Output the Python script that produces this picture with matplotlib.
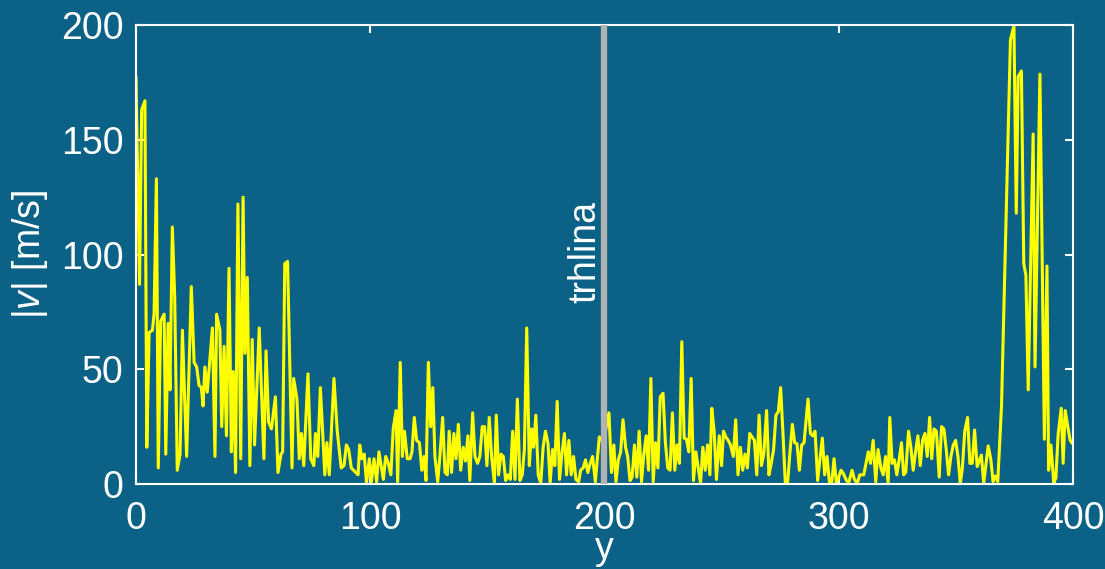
import matplotlib
matplotlib.use("Agg")
import matplotlib.pyplot as plt

plt.rcParams['font.family'] = ['Liberation Sans', 'DejaVu Sans']
plt.rcParams['mathtext.fontset'] = 'custom'
plt.rcParams['mathtext.rm'] = 'Liberation Sans'
plt.rcParams['mathtext.it'] = 'Liberation Sans:italic'

# ------------data------------------------------------------

y_0_50 = [0, 1.5, 2.4, 3.8, 4.6, 5.6, 7.0, 7.7, 8.7, 9.5, 10.5, 12.0, 12.7, 13.7, 14.5,
          15.5, 16.5, 17.6, 18.8, 19.8, 21.6, 23.6, 24.8, 25.9, 26.9, 27.9, 28.6, 29.4,
          30.4, 32.6, 33.7, 34.4, 35.8, 36.6, 37.6, 38.6, 39.7, 40.7, 41.5, 42.5, 43.5,
          44.7, 45.7, 46.5, 47.5, 48.6, 49.6]
v_0_50 = [177, 87, 163, 167, 16, 66, 67, 74, 133, 7, 71, 74, 13, 70, 41,
          112, 82, 6, 13, 67, 12, 86, 53, 51, 43, 42, 34, 51,
          40, 68, 12, 74, 67, 25, 60, 21, 94, 14, 49, 5, 122,
          11, 125, 57, 90, 8, 63]

y_50_100 = [50.6, 52.6, 54.6, 55.5, 56.6, 57.8, 59.5, 60.6, 61.9, 62.6, 63.5, 64.7, 66.6,
            67.3, 68.7, 69.7, 70.6, 71.6, 73.4, 74.6, 75.9, 76.6, 77.6, 78.7, 80.6, 81.5,
            82.5, 84.5, 85.9, 87.6, 88.8, 89.8, 90.8, 91.9, 94.8, 95.5, 96.4, 97.4, 98.4,
            99.6, 100.5]
v_50_100 = [17, 68, 11, 58, 27, 24, 38, 5, 13, 14, 96, 97, 7,
            46, 37, 11, 22, 8, 48, 11, 8, 22, 12, 42, 4, 18,
            4, 46, 23, 7, 8, 17, 15, 7, 4, 17, 11, 13, 0.5,
            11, 1]

y_100_200 = [101.6, 102.7, 103.7, 105.6, 106.6, 107.7, 108.8, 109.8, 111.0, 111.7, 112.8,
             113.7, 114.6, 115.8, 117.0, 117.8, 118.8, 119.8, 121.0, 122.0, 123.0, 123.8,
             124.8, 125.8, 126.7, 127.6, 128.8, 129.8, 130.9, 131.9, 132.9, 133.7, 134.7,
             135.7, 136.6, 137.6, 138.6, 139.7, 140.7, 141.7, 142.5, 143.7, 144.7, 145.8,
             146.8, 147.8, 148.8, 149.8, 150.8, 151.8, 153.0, 153.8, 154.8, 155.8, 156.8,
             157.8, 158.8, 159.8, 160.8, 161.8, 162.8, 163.9, 164.9, 165.8, 166.8, 167.9,
             168.9, 169.7, 170.7, 171.7, 172.8, 173.8, 174.8, 175.9, 176.8, 177.8, 178.8,
             179.8, 180.8, 181.8, 182.9, 183.8, 184.8, 185.8, 186.8, 187.8, 189.0, 189.8,
             190.9, 191.9, 192.9, 193.9, 194.9, 196.1, 196.9, 197.8, 198.3, 199.5]
v_100_200 = [11, 1, 14, 2, 12, 9, 4, 24, 32, 1, 53,
             12, 23, 11, 11, 14, 29, 19, 18, 6, 12, 1.5,
             53, 25, 42, 12, 1, 13, 29, 5, 4, 23, 5,
             22, 11, 26, 6, 16, 10, 21, 1.5, 31, 12, 9,
             12, 25, 25, 8, 29, 12, 0.3, 30, 4, 13, 12,
             1.5, 4, 2, 23, 2, 37, 1.5, 4, 15, 68, 8,
             24, 16, 30, 4, 0.3, 16, 23, 17.5, 0.3, 15, 8,
             36, 2, 13, 22, 4, 19, 4, 12, 2, 1, 6,
             7, 10.5, 5, 9, 12, 1, 10.5, 20.5, 20, 18]

y_200_300 = [201.9, 203, 204, 204.9, 205.9, 206.9, 207.9, 209, 209.9, 210.9, 211.8, 212.8,
             213.8, 214.8, 215.8, 216.8, 217.8, 218.8, 219.8, 220.8, 221.8, 222.8, 223.8,
             225, 226, 227, 228, 229, 230, 231, 232, 233, 234, 235, 236, 237, 238, 239, 240,
             241, 242, 243, 244, 245, 245.8, 246.8, 247.8, 249, 250, 250.8, 251.8, 252.8,
             253.8, 255, 256, 257, 258, 259, 260, 261, 262, 263, 264, 265, 266, 267, 268,
             269.2, 270.2, 271.2, 272.2, 273.2, 274.2, 275.2, 276.2, 277.2, 278.2, 279.2,
             280.2, 281.2, 282.2, 283.2, 284.2, 285.2, 286.9, 287.9, 288.9, 289.9, 291, 292,
             293, 294, 295, 296, 297, 298, 299, 300]
v_200_300 = [31, 5, 17, 1, 10.5, 14, 28, 16, 12, 1.5, 3, 17,
             3, 23, 1, 13, 21, 6, 46, 1, 18, 7, 38,
             39.5, 18, 7, 6, 31, 6, 17, 9, 62, 20, 19.5, 14, 46, 1.5, 14, 7,
             0.3, 16, 6, 17, 4, 33, 23, 2, 21, 8, 23, 20.5, 19,
             17, 12, 28, 4, 16, 6, 13, 7, 22, 20.5, 19, 4, 30, 8, 13,
             32, 4, 9, 15, 30, 31.5, 42, 22, 0.3, 0.7, 14,
             26, 18, 17.5, 6, 17, 18, 37, 22, 21, 23, 1.5, 11,
             20, 4, 12, 1, 0.3, 11, 0.3, 3]

y_300_400 = [301, 302, 303.3, 304.3, 305.7, 306.7, 307.9, 309, 310.7, 312.6, 313.6, 314.7,
             315.8, 316.8, 318, 319, 320, 321.1, 321.8, 322.8, 323.8, 324.8, 325.8, 326.8,
             327.7, 328.6, 329.8, 330.8, 331.8, 332.8, 333.8, 334.8, 335.8, 336.8, 337.8,
             338.8, 339.7, 340.7, 341.7, 342.9, 343.9, 344.9, 345.9, 346.9, 347.9, 348.9,
             349.9, 350.9, 351.9, 352.8, 353.8, 355, 356, 357, 358, 359.1, 360.9, 361.9,
             363.8, 364.9, 365.9, 366.9, 367.9, 369.5, 373.3, 374.8, 375.8, 376.6, 378,
             379, 379.9, 380.9, 383, 383.8, 385.9, 387.8, 388.9, 389.6, 390.6, 391.8, 392.7,
             393.7, 395, 395.8, 396.7, 397.8, 398.8, 399.5]
v_300_400 = [6, 4.5, 1.5, 0.7, 6, 2, 0.3, 4, 4, 14, 9, 19,
             1, 15, 7, 4, 12, 0.3, 29, 9, 10.5, 4, 10.5, 18,
             4, 5, 23, 16, 6, 14, 21, 8, 19, 22, 12,
             29, 11, 24, 23, 3, 25, 24, 15, 4, 12, 17,
             19, 12, 0.3, 7, 23, 29, 9, 9, 23.5, 7.6, 12.6, 0.4,
             16.6, 11, 1, 3.5, 1, 34, 193.5, 199.6, 118, 177.5, 180,
             96, 91, 41, 152.5, 51, 178.6, 19.5, 95, 6, 17, 0.4, 2.6,
             22, 33, 9, 32, 25, 19, 18]

y = y_0_50 + y_50_100 + y_100_200 + y_200_300 + y_300_400
v = v_0_50 + v_50_100 + v_100_200 + v_200_300 + v_300_400

trhlina_y = 200
bg = '#0c6286'
fs = 27

# ------------------------graf--------------------------

fig = plt.figure(figsize=(11.05, 5.69), dpi=100)
fig.patch.set_facecolor(bg)
ax = fig.add_axes([0.1231, 0.1494, 0.8479, 0.8066])
ax.set_facecolor(bg)

ax.axvline(trhlina_y, color='#b3b3b3', lw=4.5, zorder=3)
ax.plot(y, v, color='#ffff00', lw=2.2, zorder=2)
ax.text(trhlina_y - 0.4, 79, 'trhlina', rotation=90, ha='right', va='bottom',
        color='white', fontsize=fs)

ax.set_xlim(0, 400)
ax.set_ylim(0, 200)
ax.set_xticks([0, 100, 200, 300, 400])
ax.set_yticks([0, 50, 100, 150, 200])
ax.set_xlabel('y', color='white', fontsize=fs, labelpad=-4)
ax.set_ylabel(r'$|v|$ [m/s]', color='white', fontsize=fs, labelpad=8)

for s in ax.spines.values():
    s.set_color('white')
    s.set_linewidth(1.5)
ax.tick_params(direction='in', colors='white', labelsize=fs, length=6, width=1.5,
               top=True, right=True, pad=9)
ax.tick_params(axis='x', pad=12)

fig.savefig('out.png', dpi=100, facecolor=bg)
